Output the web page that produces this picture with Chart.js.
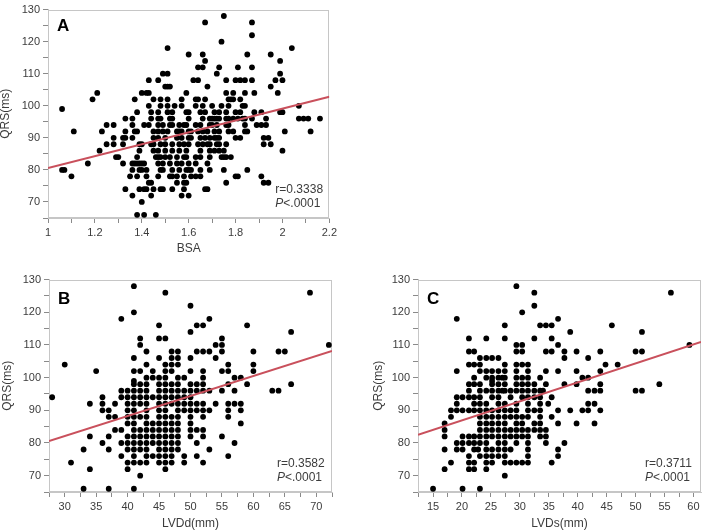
<!DOCTYPE html>
<html>
<head>
<meta charset="utf-8">
<script src="https://cdn.jsdelivr.net/npm/chart.js@4.4.0/dist/chart.umd.min.js"></script>
<style>
  body { margin: 0; background: #fff; }
  #wrap { position: relative; width: 708px; height: 531px; }
  canvas { position: absolute; }
</style>
</head>
<body>
<div id="wrap">
  <canvas id="chartA" width="340" height="262" style="left:0;top:0"></canvas>
  <canvas id="chartB" width="340" height="261" style="left:0;top:270px"></canvas>
  <canvas id="chartC" width="348" height="261" style="left:360px;top:270px"></canvas>
</div>
<script>
// each row: [QRS (ms), [x values of the patients with that QRS]]
const bsaRows = [
  [128, [1.75]],
  [126, [1.67, 1.87]],
  [122, [1.87]],
  [120, [1.74]],
  [118, [1.51, 2.04]],
  [116, [1.60, 1.66, 1.85, 1.95]],
  [114, [1.67, 1.99]],
  [112, [1.64, 1.66, 1.73, 1.81, 1.87]],
  [110, [1.49, 1.51, 1.72, 1.99]],
  [108, [1.43, 1.47, 1.62, 1.64, 1.76, 1.80, 1.82, 1.84, 1.87, 1.97, 2.00]],
  [106, [1.50, 1.51, 1.52, 1.68, 1.95]],
  [104, [1.21, 1.40, 1.42, 1.43, 1.59, 1.76, 1.79, 1.84, 1.88, 1.98]],
  [102, [1.19, 1.37, 1.45, 1.48, 1.51, 1.57, 1.63, 1.64, 1.67, 1.77, 1.78, 1.79, 1.82]],
  [100, [1.43, 1.48, 1.51, 1.54, 1.57, 1.63, 1.66, 1.70, 1.74, 1.77, 1.83, 1.84, 2.07]],
  [99, [1.06]],
  [98, [1.38, 1.44, 1.47, 1.51, 1.53, 1.59, 1.60, 1.65, 1.67, 1.71, 1.73, 1.76, 1.80, 1.82, 1.88, 1.91, 1.99, 2.00]],
  [96, [1.33, 1.36, 1.44, 1.47, 1.48, 1.52, 1.53, 1.60, 1.66, 1.69, 1.70, 1.71, 1.72, 1.73, 1.76, 1.77, 1.79, 1.81, 1.83, 1.84, 1.87, 1.93, 2.07, 2.09, 2.11, 2.16]],
  [94, [1.25, 1.28, 1.36, 1.41, 1.43, 1.47, 1.49, 1.52, 1.53, 1.56, 1.58, 1.59, 1.63, 1.65, 1.69, 1.70, 1.72, 1.76, 1.77, 1.84, 1.89, 1.91, 1.93]],
  [92, [1.11, 1.23, 1.33, 1.37, 1.38, 1.45, 1.47, 1.49, 1.51, 1.55, 1.56, 1.57, 1.60, 1.61, 1.64, 1.66, 1.68, 1.71, 1.73, 1.77, 1.79, 1.84, 1.85, 2.01, 2.12]],
  [90, [1.28, 1.32, 1.33, 1.36, 1.45, 1.47, 1.50, 1.55, 1.57, 1.60, 1.61, 1.65, 1.67, 1.69, 1.71, 1.72, 1.73, 1.80, 1.82, 1.92, 1.94]],
  [88, [1.25, 1.28, 1.32, 1.39, 1.40, 1.44, 1.45, 1.48, 1.50, 1.53, 1.56, 1.58, 1.60, 1.64, 1.66, 1.68, 1.69, 1.72, 1.73, 1.76, 1.92, 1.95]],
  [86, [1.22, 1.39, 1.45, 1.47, 1.50, 1.53, 1.56, 1.59, 1.65, 1.69, 1.71, 1.73, 1.75, 2.00]],
  [84, [1.29, 1.30, 1.38, 1.46, 1.47, 1.48, 1.50, 1.52, 1.55, 1.58, 1.59, 1.63, 1.65, 1.69, 1.74, 1.75, 1.76, 1.78]],
  [82, [1.17, 1.32, 1.36, 1.37, 1.38, 1.39, 1.40, 1.41, 1.47, 1.49, 1.52, 1.55, 1.57, 1.60, 1.63, 1.68]],
  [80, [1.06, 1.07, 1.36, 1.39, 1.40, 1.42, 1.48, 1.49, 1.53, 1.56, 1.59, 1.60, 1.61, 1.65, 1.69, 1.75, 1.85]],
  [78, [1.10, 1.35, 1.38, 1.42, 1.47, 1.52, 1.53, 1.55, 1.58, 1.61, 1.63, 1.65, 1.80, 1.81, 1.91]],
  [76, [1.43, 1.44, 1.55, 1.58, 1.59, 1.76, 1.92, 1.94]],
  [74, [1.33, 1.39, 1.41, 1.42, 1.45, 1.48, 1.49, 1.53, 1.58, 1.67, 1.68]],
  [72, [1.36, 1.44, 1.57, 1.60]],
  [70, [1.40]],
  [66, [1.38, 1.41, 1.46]]
];

const lvddRows = [
  [128, [41]],
  [126, [46, 69]],
  [122, [50]],
  [120, [41]],
  [118, [39, 53]],
  [116, [45, 51, 52, 59]],
  [114, [50, 66]],
  [112, [42, 45, 46, 55]],
  [110, [42, 54, 55, 72]],
  [108, [43, 47, 48, 51, 52, 53, 55, 60, 64, 65]],
  [106, [41, 45, 47, 48, 50, 54]],
  [104, [30, 43, 46, 47, 48, 56, 60]],
  [102, [35, 41, 42, 44, 46, 47, 50, 52, 55, 56, 60]],
  [100, [43, 44, 45, 46, 48, 49, 52, 57, 58]],
  [99, [41]],
  [98, [41, 42, 43, 45, 46, 47, 48, 50, 51, 52, 56, 59, 66]],
  [96, [39, 40, 41, 42, 43, 45, 46, 47, 48, 49, 50, 51, 52, 53, 55, 57, 63, 64]],
  [94, [28, 36, 39, 40, 41, 42, 43, 44, 45, 46, 47, 48, 49, 50]],
  [92, [34, 36, 38, 40, 41, 42, 43, 45, 46, 47, 48, 49, 50, 51, 52, 54, 56, 57, 58]],
  [90, [36, 37, 40, 41, 43, 45, 46, 48, 49, 50, 51, 52, 53, 56, 58]],
  [88, [37, 38, 40, 41, 42, 43, 45, 46, 47, 48, 50, 52, 56]],
  [86, [40, 41, 43, 44, 45, 46, 47, 48, 50, 58]],
  [84, [38, 39, 41, 42, 43, 44, 45, 46, 47, 48, 50, 51, 52]],
  [82, [34, 37, 40, 41, 42, 43, 44, 45, 46, 47, 48, 50, 52, 55]],
  [80, [36, 39, 40, 41, 42, 43, 44, 45, 46, 47, 48, 51, 57]],
  [78, [33, 37, 40, 41, 42, 43, 45, 46, 47, 48, 53]],
  [76, [39, 41, 43, 44, 45, 46, 47, 49, 51, 56]],
  [74, [31, 40, 41, 42, 43, 45, 46, 47, 49, 52]],
  [72, [34, 40, 46]],
  [70, [42]],
  [66, [33, 37, 41]]
];

const lvdsRows = [
  [128, [29.4]],
  [126, [32.5, 56.1]],
  [122, [32.5]],
  [120, [30.4]],
  [118, [19.1, 36.6]],
  [116, [27.4, 33.5, 34.5, 35.5, 45.9]],
  [114, [38.7, 51.1]],
  [112, [21.2, 24.2, 27.4, 32.5, 35.5]],
  [110, [29.4, 30.4, 36.6, 59.3]],
  [108, [21.2, 22.1, 29.4, 30.4, 34.5, 35.5, 37.7, 39.8, 43.9, 50.0, 51.1]],
  [106, [23.1, 24.2, 25.2, 26.3, 37.7, 41.8]],
  [104, [21.2, 22.1, 23.1, 27.4, 29.4, 30.4, 31.4, 44.8, 46.9]],
  [102, [19.1, 23.1, 24.2, 25.2, 26.3, 27.4, 29.4, 31.4, 34.5, 36.6, 39.8, 43.9]],
  [100, [22.1, 24.2, 25.2, 26.3, 27.0, 27.4, 29.4, 30.4, 31.4, 33.5, 40.8, 41.8]],
  [99, [25.2]],
  [98, [21.2, 22.1, 23.1, 25.2, 26.3, 27.4, 29.4, 30.4, 31.4, 32.5, 34.5, 37.7, 39.8, 43.9, 54.1]],
  [96, [21.2, 23.1, 24.2, 25.2, 26.3, 27.0, 27.4, 28.4, 29.4, 30.4, 31.4, 32.5, 33.5, 34.0, 41.8, 42.9, 43.9, 50.0, 51.1]],
  [94, [19.1, 20.1, 21.2, 22.1, 23.1, 25.2, 26.3, 28.4, 30.4, 31.4, 32.5, 33.5, 35.5]],
  [92, [19.1, 22.1, 23.1, 24.2, 26.3, 27.4, 29.4, 31.4, 33.5, 34.9, 41.8, 42.9]],
  [90, [18.1, 19.1, 20.1, 21.2, 22.1, 23.1, 24.2, 25.2, 26.3, 27.4, 28.4, 29.4, 31.4, 32.5, 33.5, 36.6, 38.7, 40.8, 41.8, 43.9]],
  [88, [18.1, 23.1, 24.2, 25.2, 26.3, 27.4, 28.4, 29.4, 30.4, 31.4, 33.5, 35.5]],
  [86, [17.0, 23.1, 24.2, 25.2, 26.3, 27.4, 29.4, 30.4, 32.5, 33.5, 36.6, 39.8, 42.9]],
  [84, [17.0, 23.1, 24.2, 25.2, 26.3, 27.4, 28.4, 29.4, 30.4, 31.4, 32.5, 33.5, 34.5]],
  [82, [17.0, 20.1, 21.2, 22.1, 23.1, 24.2, 25.2, 26.3, 27.4, 28.4, 29.4, 30.4, 31.4, 33.5, 34.5]],
  [80, [19.1, 20.1, 21.2, 22.1, 23.1, 24.2, 26.3, 27.4, 29.4, 31.4, 34.5, 37.7]],
  [78, [17.0, 19.1, 20.1, 22.1, 22.8, 24.2, 25.2, 26.3, 27.4, 28.4, 31.4, 36.6]],
  [76, [21.2, 23.1, 24.2, 25.2, 26.3, 27.4, 31.4, 36.6]],
  [74, [18.1, 21.2, 22.1, 24.2, 25.2, 27.4, 28.4, 29.4, 30.4, 31.4, 35.5]],
  [72, [17.0, 21.2, 22.1, 24.2]],
  [70, [27.4]],
  [66, [15.0, 20.1, 23.1]]
];

// regression lines: [x, QRS] at the two ends of each plot
const fitA = [[1, 80.6], [2.2, 102.8]];
const fitB = [[27.5, 80.6], [72.5, 108.2]];
const fitC = [[12.4, 82.5], [61.3, 110.9]];

const statsR = ['0.3338', '0.3582', '0.3711'];
const panelLetters = ['A', 'B', 'C'];
const xTitles = ['BSA', 'LVDd(mm)', 'LVDs(mm)'];

const fontFamily = '"Liberation Sans", Arial, sans-serif';
const frameColor = '#c6c6c6';
const tickColor = '#8a8a8a';
const textColor = '#3c3c3c';

function toPoints(rows) {
  const pts = [];
  rows.forEach(([q, xs]) => xs.forEach(x => pts.push({ x: x, y: q })));
  return pts;
}

// frame round the plot, panel letter and r / P text
const panelDecor = {
  id: 'panelDecor',
  beforeDatasetsDraw(chart) {
    const { ctx, chartArea: a } = chart;
    ctx.save();
    ctx.strokeStyle = frameColor;
    ctx.lineWidth = 1;
    ctx.strokeRect(Math.round(a.left) + 0.5, Math.round(a.top) + 0.5,
      Math.round(a.right - a.left) - 1, Math.round(a.bottom - a.top) - 1);
    ctx.restore();
  },
  afterDatasetsDraw(chart, args, opts) {
    const { ctx, chartArea: a } = chart;
    ctx.save();
    ctx.fillStyle = '#000';
    ctx.font = 'bold 17px ' + fontFamily;
    ctx.textBaseline = 'top';
    ctx.fillText(opts.letter, a.left + 9, a.top + opts.letterTop);

    ctx.fillStyle = textColor;
    ctx.textBaseline = 'middle';
    const tx = a.right - opts.statsInset;
    ctx.font = '12px ' + fontFamily;
    ctx.fillText('r=' + opts.r, tx, a.bottom - 28);
    ctx.font = 'italic 12px ' + fontFamily;
    ctx.fillText('P', tx, a.bottom - 14);
    const pw = ctx.measureText('P').width;
    ctx.font = '12px ' + fontFamily;
    ctx.fillText('<.0001', tx + pw, a.bottom - 14);
    ctx.restore();
  }
};

function makeChart(id, idx, rows, fit, cfg) {
  const ctx = document.getElementById(id).getContext('2d');
  return new Chart(ctx, {
    type: 'scatter',
    data: {
      datasets: [{
        type: 'line',
        data: fit.map(([x, y]) => ({ x: x, y: y })),
        borderColor: '#c9505c',
        borderWidth: 2,
        pointRadius: 0,
        order: 0
      }, {
        data: toPoints(rows),
        backgroundColor: '#000',
        borderWidth: 0,
        pointRadius: 2.9,
        order: 1
      }]
    },
    options: {
      responsive: false,
      animation: false,
      layout: { padding: cfg.padding },
      plugins: {
        legend: { display: false },
        tooltip: { enabled: false },
        panelDecor: { letter: panelLetters[idx], r: statsR[idx], letterTop: cfg.letterTop, statsInset: cfg.statsInset }
      },
      scales: {
        x: {
          type: 'linear',
          min: cfg.xMin,
          max: cfg.xMax,
          afterFit: s => { s.height = cfg.xHeight; },
          ticks: {
            stepSize: cfg.xStep,
            includeBounds: false,
            autoSkip: false,
            maxRotation: 0,
            maxTicksLimit: 100,
            padding: 3,
            color: textColor,
            font: { family: fontFamily, size: 11 },
            callback: cfg.xLabel
          },
          grid: { drawOnChartArea: false, tickLength: 5, color: tickColor },
          border: { color: frameColor },
          title: {
            display: true,
            text: xTitles[idx],
            color: textColor,
            font: { family: fontFamily, size: 12, lineHeight: 1 },
            padding: { top: 0, bottom: cfg.xTitlePad }
          }
        },
        y: {
          type: 'linear',
          min: 65,
          max: 130,
          afterFit: s => { s.width = cfg.yWidth; },
          ticks: {
            stepSize: 5,
            autoSkip: false,
            maxTicksLimit: 100,
            padding: 3,
            color: textColor,
            font: { family: fontFamily, size: 11 },
            callback: v => (v % 10 === 0 ? String(v) : '')
          },
          grid: { drawOnChartArea: false, tickLength: 5, color: tickColor },
          border: { color: frameColor },
          title: {
            display: true,
            text: 'QRS(ms)',
            color: textColor,
            font: { family: fontFamily, size: 12, lineHeight: 1 },
            padding: { top: cfg.yTitlePad, bottom: 0 }
          }
        }
      }
    },
    plugins: [panelDecor]
  });
}

makeChart('chartA', 0, bsaRows, fitA, {
  padding: { left: 0, top: 5, right: 9, bottom: 0 },
  xMin: 1, xMax: 2.2, xStep: 0.1,
  xLabel: v => { const t = Math.round(v * 10); return t % 2 === 0 ? String(t / 10) : ''; },
  xHeight: 44, yWidth: 48, xTitlePad: 7, yTitlePad: 0,
  letterTop: 8, statsInset: 54
});

makeChart('chartB', 1, lvddRows, fitB, {
  padding: { left: 0, top: 9, right: 8, bottom: 0 },
  xMin: 27.5, xMax: 72.5, xStep: 2.5,
  xLabel: v => (v % 5 === 0 ? String(v) : ''),
  xHeight: 39, yWidth: 49, xTitlePad: 1, yTitlePad: 1.5,
  letterTop: 11, statsInset: 55
});

makeChart('chartC', 2, lvdsRows, fitC, {
  padding: { left: 11, top: 9, right: 7, bottom: 0 },
  xMin: 12.4, xMax: 61.3, xStep: 2.5,
  xLabel: v => (v % 5 === 0 ? String(v) : ''),
  xHeight: 39, yWidth: 47, xTitlePad: 1, yTitlePad: 1.5,
  letterTop: 11, statsInset: 56
});
</script>
</body>
</html>
